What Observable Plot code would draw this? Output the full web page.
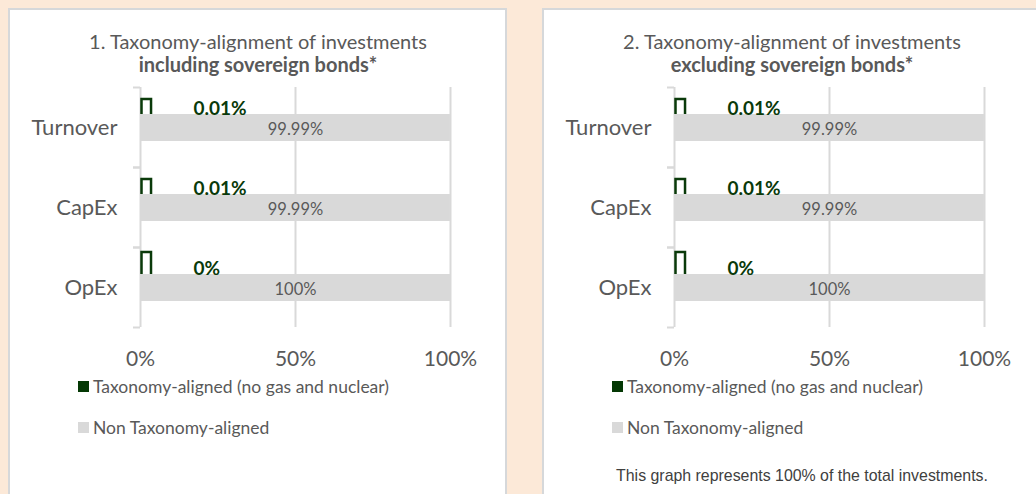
<!DOCTYPE html>
<html>
<head>
<meta charset="utf-8">
<script src="https://cdn.jsdelivr.net/npm/d3@7"></script>
<script src="https://cdn.jsdelivr.net/npm/@observablehq/plot@0.6"></script>
<style>
  html, body { margin: 0; padding: 0; }
  body { width: 1036px; height: 494px; overflow: hidden; background: #FCE9D8; font-family: Lato, "Open Sans", sans-serif; }
  #page { position: relative; width: 1036px; height: 494px; overflow: hidden; }
  .panel { position: absolute; top: 8px; width: 499px; height: 600px; box-sizing: border-box; border: 2px solid #D6D8DA; background: #fff; }
  .title { position: absolute; top: 30px; width: 500px; text-align: center; color: #595959; font-size: 20px; line-height: 23px; }
  .title b { font-weight: 700; }
  .chart { position: absolute; top: 80px; }
  .legend { position: absolute; top: 376px; color: #595959; font-size: 17.5px; }
  .legend .item { display: flex; align-items: center; height: 21px; margin-bottom: 20px; }
  .legend .sw { width: 11px; height: 11px; margin-right: 4px; }
  .foot { position: absolute; top: 467px; width: 380px; text-align: center; font-family: "Liberation Sans", Arial, sans-serif; font-size: 15.9px; color: #404040; white-space: nowrap; }
</style>
</head>
<body>
<div id="page"></div>
<script>
// ---- data ----
const categories = ["Turnover", "CapEx", "OpEx"];
const alignedIncl = [0.01, 0.01, 0];
const nonAlignedIncl = [99.99, 99.99, 100];
const alignedExcl = [0.01, 0.01, 0];
const nonAlignedExcl = [99.99, 99.99, 100];
const xTicks = [0, 50, 100];
const titleLines1 = ["1. Taxonomy-alignment of investments", "including sovereign bonds*"];
const titleLines2 = ["2. Taxonomy-alignment of investments", "excluding sovereign bonds*"];
const seriesNames = ["Taxonomy-aligned (no gas and nuclear)", "Non Taxonomy-aligned"];
const footText = "This graph represents 100% of the total investments.";

// ---- styles ----
const GREEN = "#0A3A0A";
const GREY_BAR = "#D9D9D9";
const TEXT = "#595959";
const seriesColors = [ "#043804", GREY_BAR ];

const page = document.getElementById("page");

function panel(offset, titleLines, aligned, nonAligned, foot) {
  const p = document.createElement("div");
  p.className = "panel";
  p.style.left = (8 + offset) + "px";
  page.appendChild(p);

  const t = document.createElement("div");
  t.className = "title";
  t.style.left = (8 + offset) + "px";
  t.innerHTML = titleLines[0] + "<br><b>" + titleLines[1] + "</b>";
  page.appendChild(t);

  const al = categories.map((c, i) => ({category: c, value: aligned[i]}));
  const na = categories.map((c, i) => ({category: c, value: nonAligned[i]}));
  const fmt = d => d + "%";

  const chart = Plot.plot({
    width: 470,
    height: 300,
    marginLeft: 120,
    marginRight: 40,
    marginTop: 7,
    marginBottom: 53,
    style: {fontFamily: "Lato, 'Open Sans', sans-serif", color: TEXT, background: "transparent", overflow: "visible"},
    x: {domain: [0, 100], axis: null},
    y: {domain: categories, padding: 0, axis: null},
    marks: [
      Plot.ruleX(xTicks, {stroke: GREY_BAR, strokeWidth: 2}),
      Plot.axisY({tickSize: 7, dy: -40, tickFormat: () => "", label: null, stroke: GREY_BAR, strokeWidth: 2}),
      Plot.axisY({tickSize: 7, dy: 40, tickFormat: () => "", label: null, stroke: GREY_BAR, strokeWidth: 2}),
      Plot.axisY({tickSize: 0, tickPadding: 23, fontSize: 22, label: null, fill: TEXT}),
      Plot.axisX(xTicks, {tickSize: 0, tickPadding: 24, fontSize: 21, tickFormat: fmt, label: null, fill: TEXT}),
      // aligned series: tiny outlined bars (bottom hidden behind the grey bar)
      Plot.barX(al.filter(d => d.value > 0), {x: "value", y: "category", fill: "none", stroke: GREEN, strokeWidth: 2.5, insetTop: 12, insetBottom: 37, insetLeft: 1.5, insetRight: -11}),
      Plot.barX(al.filter(d => d.value === 0), {x: "value", y: "category", fill: "none", stroke: GREEN, strokeWidth: 2.5, insetTop: 5, insetBottom: 37, insetLeft: 1.5, insetRight: -11}),
      // non aligned series
      Plot.barX(na, {x: "value", y: "category", fill: GREY_BAR, insetTop: 27, insetBottom: 26}),
      Plot.text(na, {x: d => d.value / 2, y: "category", text: d => fmt(d.value), fill: TEXT, fontSize: 16.5, dy: 2}),
      Plot.text(al, {x: 0, y: "category", text: d => fmt(d.value), fill: GREEN, fontSize: 19, fontWeight: "bold", textAnchor: "start", dx: 53, dy: -19})
    ]
  });
  chart.classList.add("chart");
  chart.style.left = (20 + offset) + "px";
  page.appendChild(chart);

  const lg = document.createElement("div");
  lg.className = "legend";
  lg.style.left = (78 + offset) + "px";
  seriesNames.forEach((n, i) => {
    const it = document.createElement("div");
    it.className = "item";
    it.innerHTML = `<span class="sw" style="background:${seriesColors[i]}"></span><span>${n}</span>`;
    lg.appendChild(it);
  });
  page.appendChild(lg);

  if (foot) {
    const f = document.createElement("div");
    f.className = "foot";
    f.style.left = (612 - 534 + offset) + "px";
    f.textContent = foot;
    page.appendChild(f);
  }
}

panel(0, titleLines1, alignedIncl, nonAlignedIncl, null);
panel(534, titleLines2, alignedExcl, nonAlignedExcl, footText);
</script>
</body>
</html>
